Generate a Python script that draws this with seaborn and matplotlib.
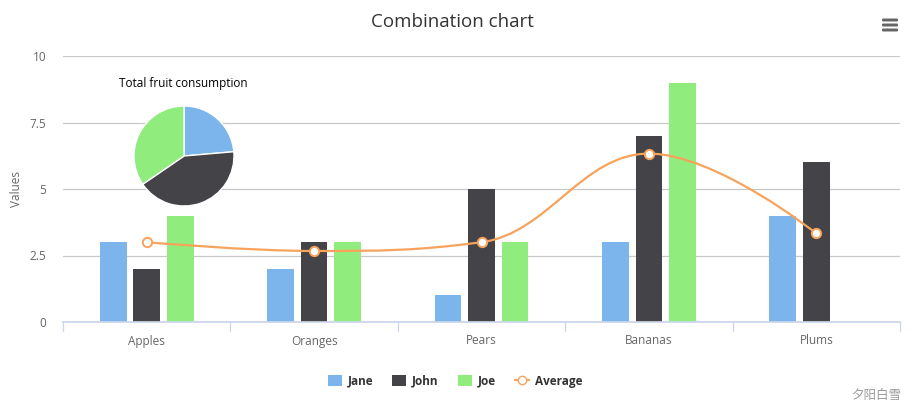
import numpy as np
import pandas as pd
import matplotlib
matplotlib.use("Agg")
import matplotlib.pyplot as plt
import seaborn as sns
from matplotlib.path import Path
from matplotlib.patches import PathPatch, FancyBboxPatch
from matplotlib.lines import Line2D
from matplotlib.patches import Patch

categories = ["Apples", "Oranges", "Pears", "Bananas", "Plums"]
jane = [3, 2, 1, 3, 4]
john = [2, 3, 5, 7, 6]
joe = [4, 3, 3, 9, 0]
average = [3, 2.67, 3, 6.33, 3.33]
pie_labels = ["Jane", "John", "Joe"]
pie_values = [13, 23, 19]
yticks = [0, 2.5, 5, 7.5, 10]
ytick_labels = ["0", "2.5", "5", "7.5", "10"]

colors = {"Jane": "#7cb5ec", "John": "#434348", "Joe": "#90ed7d"}
avg_color = "#f7a35c"

sns.set_theme(style="white")
plt.rcParams['font.family'] = ['Open Sans', 'DejaVu Sans', 'Noto Sans CJK SC']

W, H = 915, 408
fig = plt.figure(figsize=(W / 100, H / 100), dpi=100)
L, R, T, B = 63, 900, 56, 322
ax = fig.add_axes([L / W, 1 - B / H, (R - L) / W, (B - T) / H])

df = pd.DataFrame({
    "fruit": categories * 3,
    "person": ["Jane"] * 5 + ["John"] * 5 + ["Joe"] * 5,
    "value": jane + john + joe,
})
sns.barplot(data=df, x="fruit", y="value", hue="person", order=categories,
            hue_order=["Jane", "John", "Joe"], palette=colors, width=0.6, gap=0.2,
            saturation=1, ax=ax, legend=False, linewidth=0)

# Highcharts-like spline
xs = np.arange(len(average), dtype=float)
ys = np.array(average, dtype=float)
sm, den = 1.5, 2.5
lc = [None] * len(xs)
rc = [None] * len(xs)
for i in range(len(xs)):
    if 0 < i < len(xs) - 1:
        lx = (sm * xs[i] + xs[i - 1]) / den
        ly = (sm * ys[i] + ys[i - 1]) / den
        rx = (sm * xs[i] + xs[i + 1]) / den
        ry = (sm * ys[i] + ys[i + 1]) / den
        corr = ((ry - ly) * (rx - xs[i])) / (rx - lx) + ys[i] - ry
        ly += corr
        ry += corr
        if ly > max(ys[i - 1], ys[i]):
            ly = max(ys[i - 1], ys[i]); ry = 2 * ys[i] - ly
        elif ly < min(ys[i - 1], ys[i]):
            ly = min(ys[i - 1], ys[i]); ry = 2 * ys[i] - ly
        if ry > max(ys[i + 1], ys[i]):
            ry = max(ys[i + 1], ys[i]); ly = 2 * ys[i] - ry
        elif ry < min(ys[i + 1], ys[i]):
            ry = min(ys[i + 1], ys[i]); ly = 2 * ys[i] - ry
        lc[i] = (lx, ly)
        rc[i] = (rx, ry)
    else:
        lc[i] = (xs[i], ys[i])
        rc[i] = (xs[i], ys[i])
verts = [(xs[0], ys[0])]
codes = [Path.MOVETO]
for i in range(len(xs) - 1):
    verts += [rc[i], lc[i + 1], (xs[i + 1], ys[i + 1])]
    codes += [Path.CURVE4] * 3
ax.add_patch(PathPatch(Path(verts, codes), facecolor="none", edgecolor=avg_color, lw=1.6, zorder=4))
sns.scatterplot(x=xs, y=ys, ax=ax, s=45, color="white", edgecolor=avg_color, linewidth=1.4, zorder=5)

ax.set_xlim(-0.5, 4.5)
ax.set_ylim(0, 10)
ax.set_yticks(yticks)
ax.set_yticklabels(ytick_labels)
ax.yaxis.grid(True, color="#c8c8c8", lw=0.9)
ax.set_axisbelow(True)
for s in ["top", "right", "left"]:
    ax.spines[s].set_visible(False)
ax.spines["bottom"].set_color("#ccd6eb")
ax.tick_params(axis="y", length=0, labelsize=8.5, labelcolor="#666666", pad=12)
ax.tick_params(axis="x", length=0, labelsize=8.5, labelcolor="#666666", pad=9)
ax.set_xlabel("")
ax.set_ylabel("")
fig.text(16 / W, 1 - 189 / H, "Values", rotation=90, ha="center", va="center",
         fontsize=8.5, color="#666666")
for b in np.arange(-0.5, 5.0, 1.0):
    ax.plot([b, b], [0, -0.35], color="#ccd6eb", lw=0.9, clip_on=False, zorder=1)

# Pie
cx, cy, r = 184, 156, 50
pax = fig.add_axes([(cx - r) / W, 1 - (cy + r) / H, 2 * r / W, 2 * r / H])
pax.pie(pie_values, colors=[colors[k] for k in pie_labels], startangle=90, counterclock=False,
        radius=1, wedgeprops=dict(edgecolor="white", linewidth=1))
pax.set_xlim(-1.0, 1.0)
pax.set_ylim(-1.0, 1.0)
pax.set_aspect("equal")
fig.text(183 / W, 1 - 83 / H, "Total fruit consumption", ha="center", va="center",
         fontsize=8.5, color="#000000")

fig.text(452 / W, 1 - 22 / H, "Combination chart", ha="center", va="center",
         fontsize=13.5, color="#333333")

# Legend
handles = [Patch(facecolor=colors[k], edgecolor="none", label=k) for k in pie_labels]
handles.append(Line2D([0], [0], color=avg_color, lw=1.6, marker="o", markersize=6,
                      markerfacecolor="white", markeredgecolor=avg_color, label="Average"))
leg = fig.legend(handles=handles, loc="center", bbox_to_anchor=(455 / W, 1 - 381 / H), ncol=4,
                 frameon=False, fontsize=8.5, handlelength=1.2, handleheight=1.0,
                 columnspacing=1.6, handletextpad=0.5)
for t in leg.get_texts():
    t.set_fontweight("bold")
    t.set_color("#333333")

fig.text(876 / W, 1 - 395 / H, "夕阳白雪", ha="center", va="center", fontsize=9,
         color="#999999", family=["Noto Sans CJK SC", "DejaVu Sans"])

# menu icon
for yy in [20, 25, 30]:
    fig.patches.append(FancyBboxPatch((882 / W, 1 - (yy + 1.5) / H), 16 / W, 3 / H,
                                      boxstyle="round,pad=0,rounding_size=0.002",
                                      transform=fig.transFigure, facecolor="#666666",
                                      edgecolor="none"))

fig.savefig("out.png", dpi=100)
